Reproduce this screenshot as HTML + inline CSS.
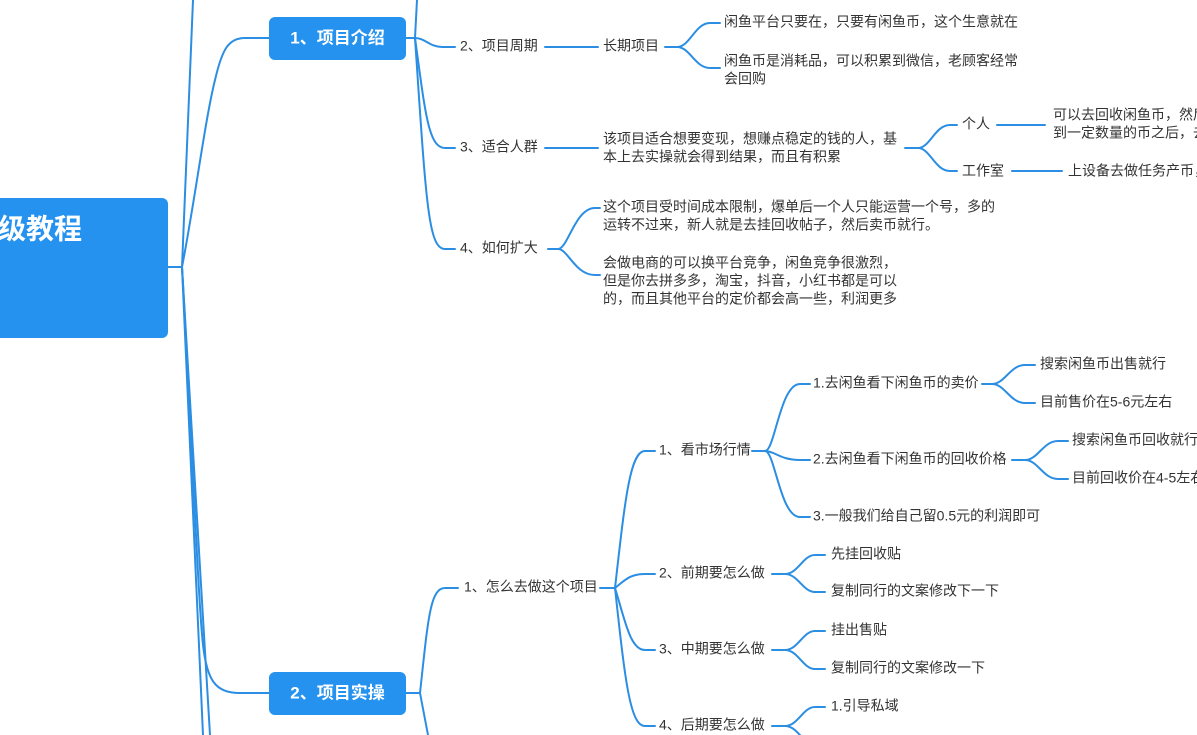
<!DOCTYPE html>
<html><head><meta charset="utf-8"><style>
html,body{margin:0;padding:0;background:#fff;width:1197px;height:735px;overflow:hidden}
svg text{font-family:"Liberation Sans","Noto Sans CJK SC",sans-serif;fill:#333;font-size:14px;dominant-baseline:middle}
</style></head><body>
<svg width="1197" height="735" viewBox="0 0 1197 735" xmlns="http://www.w3.org/2000/svg">
<g fill="none" stroke="#2b8ee2" stroke-width="2" stroke-linecap="round">
<path d="M168 267 H182"/>
<path d="M182 267 L193 0"/>
<path d="M182 267 C195 200 205 120 215 80 C222 50 228 38 245 38 H269"/>
<path d="M182 267 C190 400 198 600 203 645 C207 680 215 693 240 693 H269"/>
<path d="M182 267 L203 735"/>
<path d="M182 267 L210 735"/>
<path d="M406 38 H415"/>
<path d="M415 38 L417 0"/>
<path d="M415 38 C425 38 430 47 442 47 H455"/>
<path d="M415 38 C425 110 428 148 445 148 H455"/>
<path d="M415 38 C426 200 428 249 445 249 H455"/>
<path d="M545 47 H598"/>
<path d="M545 148 H598"/>
<path d="M548 249 H558 C568 249 575 208 595 208 H600 M558 249 C568 249 575 275 595 275 H600"/>
<path d="M665 47 H677 C690 47 695 23 710 23 H720 M677 47 C690 47 695 68 710 68 H720"/>
<path d="M905 148 H918 C930 148 935 125 950 125 H957 M918 148 C930 148 935 171 950 171 H957"/>
<path d="M997 125 H1045"/>
<path d="M1012 171 H1062"/>
<path d="M406 693 H420"/>
<path d="M420 693 C428 620 430 588 445 588 H458"/>
<path d="M420 693 L428 735"/>
<path d="M600 588 H615"/>
<path d="M615 588 C625 500 630 451 645 451 H655"/>
<path d="M615 588 C625 580 630 574 645 574 H655"/>
<path d="M615 588 C625 620 630 650 645 650 H655"/>
<path d="M615 588 C625 680 630 726 645 726 H655"/>
<path d="M752 451 H765 C775 451 780 384 800 384 H810 M765 451 C775 451 780 460 800 460 H810 M765 451 C775 451 780 517 800 517 H810"/>
<path d="M982 384 H992 C1005 384 1010 365 1025 365 H1035 M992 384 C1005 384 1010 403 1025 403 H1035"/>
<path d="M1012 460 H1025 C1038 460 1043 441 1058 441 H1068 M1025 460 C1038 460 1043 479 1058 479 H1068"/>
<path d="M772 574 H785 C798 574 803 555 815 555 H825 M785 574 C798 574 803 592 815 592 H825"/>
<path d="M772 650 H785 C798 650 803 631 815 631 H825 M785 650 C798 650 803 669 815 669 H825"/>
<path d="M772 726 H785 C798 726 803 707 815 707 H825 M785 726 C798 726 803 745 815 745 H825"/>
</g>
<rect x="-20" y="198" width="188" height="140" rx="6" fill="#2492ee"/>
<text x="-2" y="231" style="fill:#fff;font-size:28px;font-weight:bold">级教程</text>
<rect x="269" y="17" width="137" height="43" rx="6" fill="#2492ee"/>
<text x="337.5" y="39" text-anchor="middle" style="fill:#fff;font-size:17px;font-weight:bold">1、项目介绍</text>
<rect x="269" y="672" width="137" height="43" rx="6" fill="#2492ee"/>
<text x="337.5" y="694" text-anchor="middle" style="fill:#fff;font-size:17px;font-weight:bold">2、项目实操</text>

<text x="460" y="47">2、项目周期</text>
<text x="460" y="148">3、适合人群</text>
<text x="460" y="249">4、如何扩大</text>
<text x="603" y="47">长期项目</text>
<text x="724" y="23">闲鱼平台只要在，只要有闲鱼币，这个生意就在</text>
<text x="724" y="62">闲鱼币是消耗品，可以积累到微信，老顾客经常</text>
<text x="724" y="80">会回购</text>
<text x="603" y="140">该项目适合想要变现，想赚点稳定的钱的人，基</text>
<text x="603" y="158">本上去实操就会得到结果，而且有积累</text>
<text x="962" y="125">个人</text>
<text x="962" y="172">工作室</text>
<text x="1053" y="116">可以去回收闲鱼币，然后</text>
<text x="1053" y="134">到一定数量的币之后，去</text>
<text x="1068" y="172">上设备去做任务产币，</text>
<text x="603" y="208">这个项目受时间成本限制，爆单后一个人只能运营一个号，多的</text>
<text x="603" y="226">运转不过来，新人就是去挂回收帖子，然后卖币就行。</text>
<text x="603" y="264">会做电商的可以换平台竞争，闲鱼竞争很激烈，</text>
<text x="603" y="282">但是你去拼多多，淘宝，抖音，小红书都是可以</text>
<text x="603" y="300">的，而且其他平台的定价都会高一些，利润更多</text>

<text x="464" y="588">1、怎么去做这个项目</text>
<text x="659" y="451">1、看市场行情</text>
<text x="659" y="574">2、前期要怎么做</text>
<text x="659" y="650">3、中期要怎么做</text>
<text x="659" y="726">4、后期要怎么做</text>
<text x="813" y="384">1.去闲鱼看下闲鱼币的卖价</text>
<text x="813" y="460">2.去闲鱼看下闲鱼币的回收价格</text>
<text x="813" y="517">3.一般我们给自己留0.5元的利润即可</text>
<text x="1040" y="365">搜索闲鱼币出售就行</text>
<text x="1040" y="403">目前售价在5-6元左右</text>
<text x="1072" y="441">搜索闲鱼币回收就行</text>
<text x="1072" y="479">目前回收价在4-5左右</text>
<text x="831" y="555">先挂回收贴</text>
<text x="831" y="592">复制同行的文案修改下一下</text>
<text x="831" y="631">挂出售贴</text>
<text x="831" y="669">复制同行的文案修改一下</text>
<text x="831" y="707">1.引导私域</text>
</svg>
</body></html>
